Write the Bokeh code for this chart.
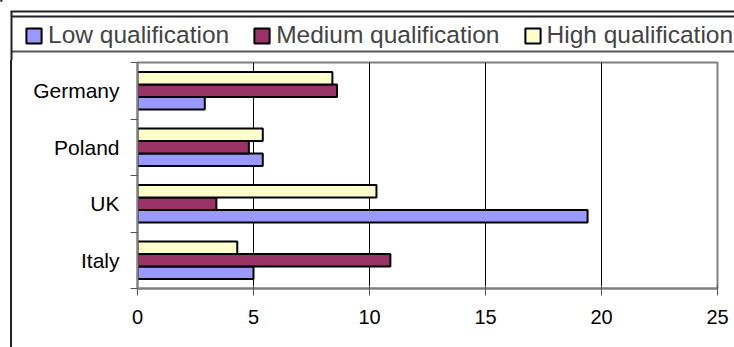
from bokeh.plotting import figure
from bokeh.models import (ColumnDataSource, FixedTicker, Legend, LegendItem, Range1d, Div)
from bokeh.layouts import column, row
from bokeh.transform import dodge
from bokeh.embed import file_html
from bokeh.resources import INLINE

# ---- data ----
countries = ["Italy", "UK", "Poland", "Germany"]          # bottom -> top
low = [5.0, 19.4, 5.4, 2.9]
medium = [10.9, 3.4, 4.8, 8.6]
high = [4.3, 10.3, 5.4, 8.4]
series_names = ["Low qualification", "Medium qualification", "High qualification"]
series_colors = ["#9999FF", "#993366", "#FFFFCC"]
x_ticks = [0, 5, 10, 15, 20, 25]

FONT = "Liberation Sans"
W, H = 734, 347
TOP_H = 60      # legend strip height
STRIP_W = 13    # left strip holding the chart-area border

# ---- main chart ----
centers = [i + 0.5 for i in range(len(countries))]
bounds = [float(i) for i in range(len(countries) + 1)]
src = ColumnDataSource(dict(y=centers, low=low, medium=medium, high=high))

p = figure(width=W - STRIP_W, height=H - TOP_H, output_backend="svg", toolbar_location=None,
           x_range=Range1d(0, 25), y_range=Range1d(0, len(countries)),
           min_border_left=137 - STRIP_W, min_border_right=17,
           min_border_top=2, min_border_bottom=59)
p.background_fill_color = "white"
p.border_fill_color = "white"
p.outline_line_color = "#808080"
p.outline_line_width = 2

bh = 0.22
offsets = [-bh, 0.0, bh]
for key, off, col in zip(["low", "medium", "high"], offsets, series_colors):
    p.hbar(y=dodge("y", off), right=key, left=0, height=bh, source=src,
           fill_color=col, line_color="black", line_width=2)

p.xaxis.ticker = FixedTicker(ticks=x_ticks)
p.xaxis.axis_line_color = "#808080"
p.xaxis.axis_line_width = 2
p.xaxis.major_tick_line_color = "#555555"
p.xaxis.major_tick_out = 7
p.xaxis.major_tick_in = 3
p.xaxis.minor_tick_line_color = None
p.xaxis.major_label_text_font = FONT
p.xaxis.major_label_text_font_size = "20px"
p.xaxis.major_label_text_color = "black"
p.xaxis.major_label_standoff = 14

p.yaxis.ticker = FixedTicker(ticks=centers, minor_ticks=bounds)
p.yaxis.major_label_overrides = {c: n for c, n in zip(centers, countries)}
p.yaxis.axis_line_color = "#808080"
p.yaxis.axis_line_width = 2
p.yaxis.major_tick_line_color = None
p.yaxis.major_tick_out = 0
p.yaxis.major_tick_in = 0
p.yaxis.minor_tick_line_color = "#555555"
p.yaxis.minor_tick_out = 7
p.yaxis.minor_tick_in = 0
p.yaxis.major_label_text_font = FONT
p.yaxis.major_label_text_font_size = "21px"
p.yaxis.major_label_text_color = "black"
p.yaxis.major_label_standoff = 11

p.xgrid.grid_line_color = "black"
p.xgrid.grid_line_width = 1
p.ygrid.grid_line_color = None

# ---- legend strip (top) ----
top = figure(width=W, height=TOP_H, output_backend="svg", toolbar_location=None,
             x_axis_type=None, y_axis_type=None,
             x_range=Range1d(0, W), y_range=Range1d(TOP_H, 0),
             min_border=0, min_border_left=0, min_border_right=0,
             min_border_top=0, min_border_bottom=0)
top.outline_line_color = None
top.grid.grid_line_color = None
top.background_fill_color = "white"
top.border_fill_color = "white"
# chart-area border top + left, legend box top + bottom
top.segment(x0=[10, 11, 11], y0=[11, 16, 51], x1=[W, W, W], y1=[11, 16, 51],
            line_color=["#222222", "#222222", "#555555"], line_width=2)
top.segment(x0=[11], y0=[11], x1=[11], y1=[TOP_H], line_color="#222222", line_width=2)

# legend proxies (placed outside the visible range, used only for swatches)
proxies = []
for col in series_colors:
    proxies.append(top.hbar(y=[-100], right=[1], left=0, height=1,
                            fill_color=col, line_color="black", line_width=2))
legend = Legend(items=[LegendItem(label=n, renderers=[r]) for n, r in zip(series_names, proxies)],
                orientation="horizontal", location=(24, 11),
                padding=4, margin=0, spacing=23,
                glyph_width=19, glyph_height=19, label_standoff=5,
                label_height=27,
                label_text_font=FONT, label_text_font_size="24.5px",
                border_line_color=None, background_fill_color=None)
top.add_layout(legend, "center")

# ---- left strip carrying the chart-area border ----
strip = Div(text="", width=STRIP_W, height=H - TOP_H, margin=0,
            styles={"background-color": "white",
                    "background-image": "linear-gradient(#222222, #222222)",
                    "background-size": "2px 100%",
                    "background-position": "10px 0px",
                    "background-repeat": "no-repeat"})

layout = column(top, row(strip, p, spacing=0), spacing=0)
open("out.html", "w").write(file_html(layout, INLINE))
